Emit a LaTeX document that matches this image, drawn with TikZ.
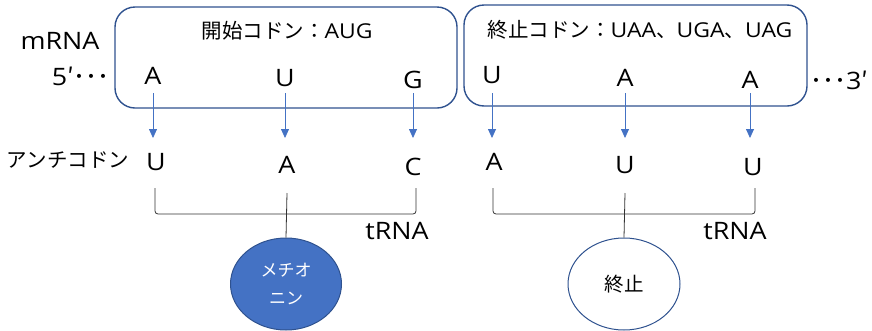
\documentclass[tikz,border=0pt]{standalone}
\usepackage{fontspec}
\setmainfont[FakeStretch=1.12]{Open Sans}
\newfontfamily\jp{Noto Sans CJK JP}
\usetikzlibrary{arrows.meta,shapes.geometric}
\definecolor{boxblue}{HTML}{2F528F}
\definecolor{arrblue}{HTML}{4472C4}
\tikzset{
  codonbox/.style={draw=boxblue, line width=1.4pt, rounded corners=20pt, inner sep=0pt},
  base/.style={font=\fontsize{24}{28}\selectfont, inner sep=0pt},
  label/.style={font=\fontsize{20.5}{24}\selectfont, inner sep=0pt},
  pairarrow/.style={draw=arrblue, line width=0.8pt, -{Triangle[width=8pt,length=9pt]}},
  bracket/.style={draw=black!80, line width=0.8pt, rounded corners=3pt},
  stem/.style={draw=black!80, line width=0.8pt},
}
\begin{document}
\begin{tikzpicture}[x=1pt,y=-1pt]
\useasboundingbox (0,0) rectangle (872,330);

% codon boxes on the mRNA
\node[codonbox, minimum width=342pt, minimum height=101pt] (box1) at (286,57.5) {};
\node[codonbox, minimum width=343pt, minimum height=101pt] (box2) at (635.5,55.5) {};
\node[label] (title1) at (287,31) {{\jp 開始コドン：}AUG};
\node[label] (title2) at (640,30) {{\jp 終止コドン：}UAA{\jp 、}UGA{\jp 、}UAG};

% mRNA strand labels
\node[base] (mrna) at (60,41) {mRNA};
\node[base, anchor=east] (five) at (110,76) {5{\jp ′･･･}};
\node[base, anchor=west] (three) at (810,80) {{\jp ･･･}3{\jp ′}};

% codon bases
\node[base] (m1) at (153,76) {A};
\node[base] (m2) at (285,78) {U};
\node[base] (m3) at (413,80) {G};
\node[base] (m4) at (492,75) {U};
\node[base] (m5) at (625,78) {A};
\node[base] (m6) at (750,80) {A};

% anticodon bases
\node[label] (anti) at (68,160) {\jp アンチコドン};
\node[base] (c1) at (156,162) {U};
\node[base] (c2) at (287,165) {A};
\node[base] (c3) at (413,167) {C};
\node[base] (c4) at (494,162) {A};
\node[base] (c5) at (625,165) {U};
\node[base] (c6) at (753,167) {U};

% base pairing arrows
\foreach \i in {1,...,6}
  \draw[pairarrow] (m\i |- 0,93) -- (m\i |- 0,138);

% tRNA bodies
\coordinate (b1l) at (155,188);
\coordinate (b1r) at (416,188);
\coordinate (b2l) at (493,188);
\coordinate (b2r) at (755,188);
\draw[bracket] (b1l) -- (155,214) -- (416,214) -- (b1r);
\draw[bracket] (b2l) -- (493,214) -- (755,214) -- (b2r);
\node[base] (t1) at (397,231) {tRNA};
\node[base] (t2) at (735,231) {tRNA};

% amino acid / release
\node[ellipse, draw=boxblue, fill=arrblue, line width=1pt, minimum width=111pt, minimum height=92pt, inner sep=0pt,
      font=\jp\fontsize{17}{28}\selectfont, text=white, align=center] (met) at (286,284) {メチオ\\ニン};
\node[ellipse, draw=boxblue, fill=white, line width=1pt, minimum width=112pt, minimum height=92pt, inner sep=0pt,
      font=\jp\fontsize{19.5}{22}\selectfont] (stop) at (624,284) {終止};
\draw[stem] (c2 |- 0,193) -- (met.north);
\draw[stem] (c5 |- 0,193) -- (stop.north);
\end{tikzpicture}
\end{document}
